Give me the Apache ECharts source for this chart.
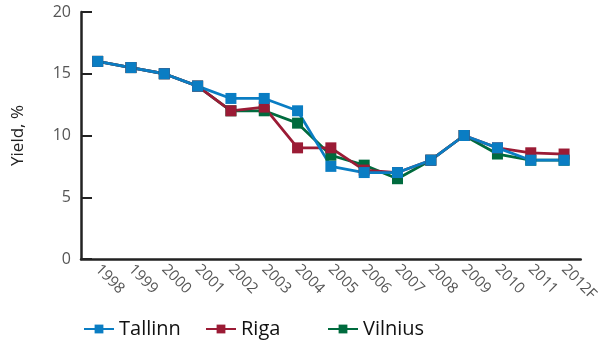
<!DOCTYPE html>
<html>
<head>
<meta charset="utf-8">
<script src="https://cdn.jsdelivr.net/npm/echarts@6/dist/echarts.min.js"></script>
<style>
  html, body { margin: 0; padding: 0; background: #fff; }
  #chart { width: 601px; height: 344px; }
</style>
</head>
<body>
<div id="chart"></div>
<script>
// yields by year
const years = ['1998', '1999', '2000', '2001', '2002', '2003', '2004', '2005', '2006', '2007', '2008', '2009', '2010', '2011', '2012F'];
const tallinn = [16, 15.5, 15, 14, 13, 13, 12, 7.5, 7, 7, 8, 10, 9, 8, 8];
const riga = [16, 15.5, 15, 14, 12, 12.3, 9, 9, 7.2, 7, 8, 10, 9, 8.6, 8.5];
const vilnius = [16, 15.5, 15, 14, 12, 12, 11, 8.4, 7.6, 6.5, 8, 10, 8.5, 8, 8];

const font = 'Open Sans';
const blue = '#0a7dc3';
const red = '#9b1b35';
const green = '#006b3e';

function lineSeries(name, data, color) {
    return {
        name: name,
        type: 'line',
        data: data,
        symbol: 'rect',
        symbolSize: 11,
        lineStyle: { color: color, width: 2.8 },
        itemStyle: { color: color },
        emphasis: { disabled: true }
    };
}

function legendAt(name, left) {
    return {
        data: [name],
        left: left,
        bottom: 0,
        itemWidth: 30,
        itemHeight: 11,
        itemGap: 5,
        textStyle: { fontFamily: font, fontSize: 20, color: '#111' }
    };
}

const chart = echarts.init(document.getElementById('chart'));
chart.setOption({
    animation: false,
    grid: { left: 81, right: 13, top: 12, bottom: 85 },
    legend: [
        legendAt('Tallinn', 78),
        legendAt('Riga', 200),
        legendAt('Vilnius', 322)
    ],
    xAxis: {
        type: 'category',
        data: years,
        boundaryGap: true,
        axisLine: { lineStyle: { color: '#222', width: 2.5 } },
        axisTick: { inside: true, length: 5, lineStyle: { color: '#222', width: 2 } },
        axisLabel: {
            rotate: -45,
            interval: 0,
            margin: 8,
            fontFamily: font,
            fontSize: 15,
            color: '#555'
        }
    },
    yAxis: {
        type: 'value',
        min: 0,
        max: 20,
        interval: 5,
        name: 'Yield, %',
        nameLocation: 'middle',
        nameGap: 54,
        nameTextStyle: { fontFamily: font, fontSize: 17, color: '#222' },
        axisLine: { show: true, lineStyle: { color: '#222', width: 2.5 } },
        axisTick: { show: true, inside: true, length: 11, lineStyle: { color: '#222', width: 2 } },
        axisLabel: { fontFamily: font, fontSize: 16, color: '#555', margin: 10 },
        splitLine: { show: false }
    },
    series: [
        lineSeries('Vilnius', vilnius, green),
        lineSeries('Riga', riga, red),
        lineSeries('Tallinn', tallinn, blue)
    ]
});
</script>
</body>
</html>
